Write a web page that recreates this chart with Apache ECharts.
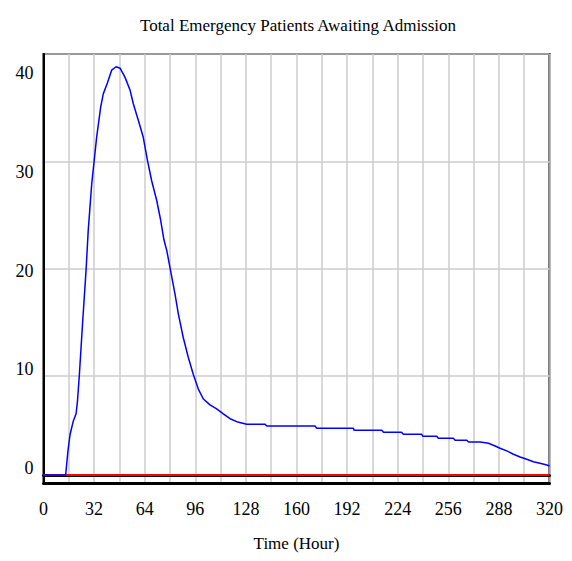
<!DOCTYPE html>
<html>
<head>
<meta charset="utf-8">
<script src="https://cdn.jsdelivr.net/npm/echarts@6/dist/echarts.min.js"></script>
<style>
  html, body { margin: 0; padding: 0; background: #fff; }
  #chart { width: 572px; height: 561px; }
</style>
</head>
<body>
<div id="chart"></div>
<script>
// ---- data ----
const chartTitle = 'Total Emergency Patients Awaiting Admission';
const xAxisName = 'Time (Hour)';
const xTickLabels = [0, 32, 64, 96, 128, 160, 192, 224, 256, 288, 320];
const yTickLabels = [0, 10, 20, 30, 40];

const hours = [0, 14, 15.5, 16.8, 18.9, 20.6, 21.5, 22.7, 24.8, 26.9, 28.3, 30.5, 33.6, 36.2, 37.8, 40.4, 43.1, 45.9, 48.4, 51.5, 54.7, 56.8, 60, 63.1, 65.7, 68.4, 71.6, 74.1, 76.2, 78, 80, 83.2, 85.3, 88.4, 91.6, 94.7, 97.9, 101.1, 105.3, 109.5, 113.7, 118, 122.2, 128.5, 140, 141.2, 171.7, 172.8, 196, 196.4, 213.9, 215, 226.4, 227.6, 239.2, 239.8, 248.7, 249.7, 259.2, 260.3, 267.7, 268.8, 276.1, 281.4, 285.6, 288.7, 293, 297.2, 301.4, 305.6, 309.8, 314, 318.3, 320];
const awaiting = [0, 0, 2.5, 4.1, 5.5, 6.2, 7.5, 10.2, 15.6, 20.7, 24.8, 29.5, 34.2, 37.3, 38.6, 39.7, 41.0, 41.35, 41.2, 40.3, 39.0, 37.6, 35.9, 34.2, 31.9, 29.8, 27.8, 25.8, 23.8, 22.7, 21.0, 18.3, 16.3, 13.9, 11.9, 10.2, 8.7, 7.7, 7.1, 6.7, 6.2, 5.7, 5.4, 5.15, 5.15, 4.97, 4.97, 4.74, 4.74, 4.53, 4.53, 4.33, 4.33, 4.13, 4.13, 3.93, 3.93, 3.72, 3.72, 3.52, 3.52, 3.35, 3.35, 3.22, 2.94, 2.71, 2.44, 2.1, 1.83, 1.59, 1.35, 1.19, 1.02, 0.91];
const baselineHours = [0, 320];
const baseline = [0, 0];

// ---- chart ----
const font = 'Liberation Serif, Times New Roman, serif';
const chart = echarts.init(document.getElementById('chart'), null, { renderer: 'svg' });
const dataMin = -0.81, dataMax = 42.64;
const labelMin = -1.52, labelMax = 41.93;

chart.setOption({
  animation: false,
  backgroundColor: '#ffffff',
  title: {
    text: chartTitle,
    left: 293, textAlign: 'center', top: 12,
    textStyle: { fontFamily: font, fontSize: 17, fontWeight: 'normal', color: '#000' }
  },
  grid: {
    left: 43.5, right: 22.5, top: 54, bottom: 78,
    show: true, borderColor: '#000', borderWidth: 2, backgroundColor: 'transparent'
  },
  xAxis: [
    {
      type: 'value', min: 0, max: 320, interval: 16, position: 'bottom',
      name: xAxisName, nameLocation: 'middle', nameGap: 52,
      nameTextStyle: { fontFamily: font, fontSize: 17, color: '#000' },
      axisLine: { show: true, onZero: false, lineStyle: { color: '#000', width: 3 } },
      axisTick: { show: false },
      axisLabel: { customValues: xTickLabels, margin: 17, fontFamily: font, fontSize: 18, color: '#000' },
      splitLine: { show: true, lineStyle: { color: '#cccccc', width: 1.5 } }
    },
    {
      type: 'value', min: 0, max: 320, position: 'top',
      axisLine: { show: true, lineStyle: { color: '#000', width: 3 } },
      axisTick: { show: false }, axisLabel: { show: false }, splitLine: { show: false }
    }
  ],
  yAxis: [
    {
      type: 'value', min: dataMin, max: dataMax, interval: (dataMax - dataMin) / 4, position: 'left',
      axisLine: { show: true, onZero: false, lineStyle: { color: '#000', width: 2 } },
      axisTick: { show: false }, axisLabel: { show: false },
      splitLine: { show: true, lineStyle: { color: '#cccccc', width: 1.5 } }
    },
    {
      type: 'value', min: labelMin, max: labelMax, position: 'left',
      axisLine: { show: false }, axisTick: { show: false }, splitLine: { show: false },
      axisLabel: { customValues: yTickLabels, margin: 10, fontFamily: font, fontSize: 18, color: '#000' }
    }
  ],
  series: [
    {
      type: 'line', name: 'baseline', xAxisIndex: 0, yAxisIndex: 0,
      data: baselineHours.map((h, i) => [h, baseline[i]]),
      showSymbol: false, lineStyle: { color: '#ff0000', width: 2 }, z: 2
    },
    {
      type: 'line', name: 'awaiting', xAxisIndex: 0, yAxisIndex: 0,
      data: hours.map((h, i) => [h, awaiting[i]]),
      showSymbol: false, lineStyle: { color: '#0000ff', width: 1.5 }, z: 3
    }
  ]
});
</script>
</body>
</html>
